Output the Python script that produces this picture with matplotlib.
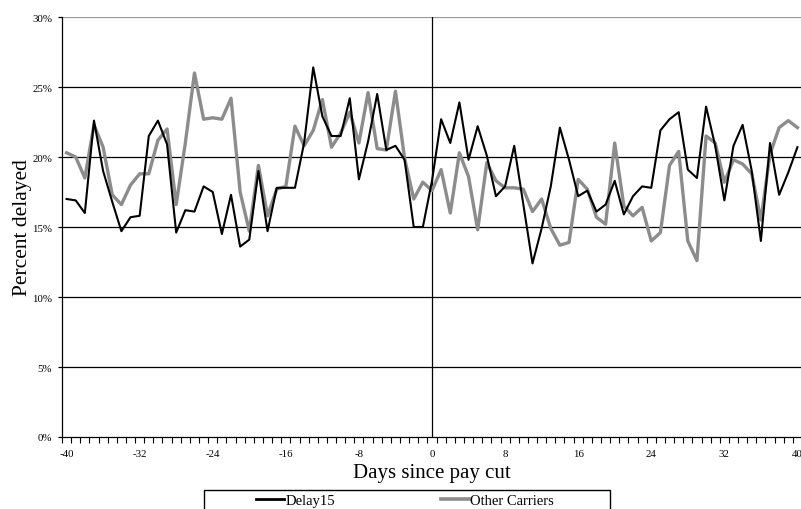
import numpy as np
import matplotlib
matplotlib.use("Agg")
import matplotlib.pyplot as plt
from matplotlib.lines import Line2D
from matplotlib.patches import Rectangle

days = list(range(-40, 41))
delay15 = [17.0, 16.9, 16.0, 22.6, 19.0, 16.8, 14.7, 15.7, 15.8, 21.5,
           22.6, 20.9, 14.6, 16.2, 16.1, 17.9, 17.5, 14.5, 17.3, 13.6,
           14.1, 19.0, 14.7, 17.8, 17.8, 17.8, 21.0, 26.4, 22.9, 21.5,
           21.5, 24.2, 18.4, 21.1, 24.5, 20.5, 20.8, 19.8, 15.0, 15.0,
           18.3, 22.7, 21.0, 23.9, 19.8, 22.2, 20.1, 17.2, 17.9, 20.8,
           16.6, 12.4, 14.9, 17.9, 22.1, 19.8, 17.2, 17.6, 16.1, 16.6,
           18.3, 15.9, 17.2, 17.9, 17.8, 21.9, 22.7, 23.2, 19.1, 18.5,
           23.6, 20.8, 16.9, 20.8, 22.3, 19.0, 14.0, 21.0, 17.3, 18.9,
           20.7]
other_carriers = [20.3, 20.0, 18.5, 22.3, 20.7, 17.3, 16.6, 18.0, 18.8, 18.8,
                  21.2, 22.0, 16.6, 21.0, 26.0, 22.7, 22.8, 22.7, 24.2, 17.5,
                  14.7, 19.4, 15.8, 17.7, 17.9, 22.2, 20.8, 21.9, 24.1, 20.7,
                  21.7, 23.2, 21.0, 24.6, 20.6, 20.5, 24.7, 19.9, 17.0, 18.2,
                  17.6, 19.1, 16.0, 20.3, 18.6, 14.8, 19.6, 18.3, 17.8, 17.8,
                  17.7, 16.1, 17.0, 14.9, 13.7, 13.9, 18.4, 17.7, 15.7, 15.2,
                  21.0, 16.5, 15.8, 16.4, 14.0, 14.6, 19.4, 20.4, 14.0, 12.6,
                  21.5, 21.0, 18.2, 19.8, 19.5, 18.8, 15.5, 20.2, 22.1, 22.6,
                  22.1]
xtick_vals = list(range(-40, 41, 8))
ytick_vals = [0, 5, 10, 15, 20, 25, 30]
ytick_labels = ["0%", "5%", "10%", "15%", "20%", "25%", "30%"]
series_names = ["Delay15", "Other Carriers"]

SERIF = ["Liberation Serif", "DejaVu Serif"]
plt.rcParams["font.family"] = SERIF

W, H = 801, 510
fig = plt.figure(figsize=(W / 100, H / 100), dpi=100)
ax = fig.add_axes([62 / W, (H - 438) / H, 740 / W, 420 / H])

# gridlines
for v in ytick_vals[1:-1]:
    ax.axhline(v, color="black", lw=0.9, zorder=1)
ax.axhline(ytick_vals[-1], color="#9a9a9a", lw=0.9, zorder=1)
ax.axvline(0, color="black", lw=0.9, zorder=1)

ax.plot(days, delay15, color="black", lw=1.5, zorder=3)
ax.plot(days, other_carriers, color="#8c8c8c", lw=2.4, zorder=2)

ax.set_xlim(-40.5, 40.5)
ax.set_ylim(0, 30)

for s in ["top", "right"]:
    ax.spines[s].set_visible(False)
ax.spines["left"].set_linewidth(0.9)
ax.spines["bottom"].set_linewidth(0.9)

ax.set_yticks(ytick_vals)
ax.set_yticklabels(ytick_labels, fontsize=7.8)
ax.tick_params(axis="y", direction="out", length=3, width=0.9, pad=4)

ax.set_xticks(xtick_vals)
ax.set_xticklabels([str(v) for v in xtick_vals], fontsize=7.8)
ax.tick_params(axis="x", which="major", length=0, pad=9)
ax.set_xticks(np.arange(-40.5, 41, 1.0), minor=True)
ax.tick_params(axis="x", which="minor", direction="out", length=4, width=0.8)

ax.set_xlabel("Days since pay cut", fontsize=15, labelpad=3)
ax.set_ylabel("Percent delayed", fontsize=15.5, labelpad=0)

# legend frame and entries
fig.patches.append(Rectangle((204 / W, -0.05), 406 / W, 0.05 + (H - 491) / H,
                             transform=fig.transFigure, fill=False,
                             edgecolor="black", lw=1.0))
handles = [Line2D([], [], color="black", lw=2.0),
           Line2D([], [], color="#8c8c8c", lw=2.6)]
fig.legend(handles, series_names, loc="center left",
           bbox_to_anchor=(256 / W, (H - 501) / H), ncol=2, frameon=False,
           fontsize=10.5, handlelength=1.9, handletextpad=0.1,
           columnspacing=7.3, borderpad=0, borderaxespad=0)

fig.savefig("out.png", dpi=100)
